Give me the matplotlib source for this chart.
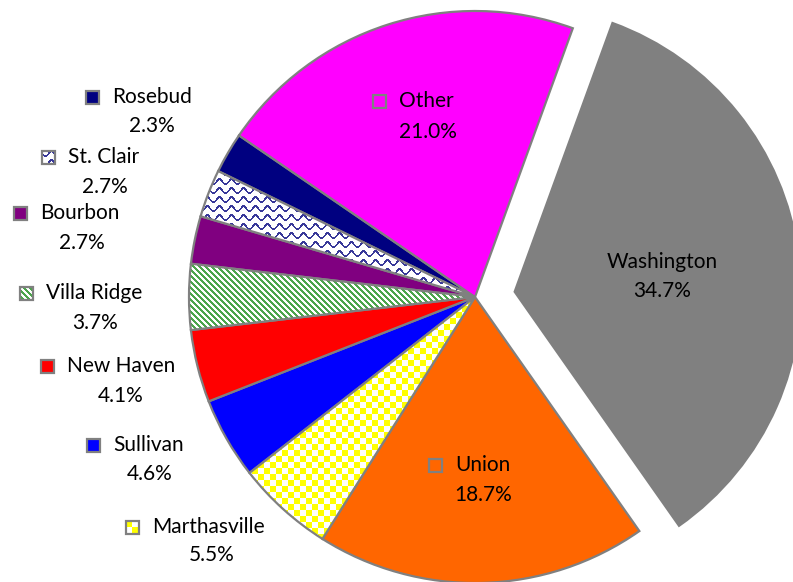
import numpy as np
import matplotlib.pyplot as plt
from matplotlib.patches import Rectangle

W, H = 793, 582

towns = ["Washington", "Union", "Marthasville", "Sullivan", "New Haven",
         "Villa Ridge", "Bourbon", "St. Clair", "Rosebud", "Other"]
shares = [34.7, 18.7, 5.5, 4.6, 4.1, 3.7, 2.7, 2.7, 2.3, 21.0]
colors = ["#808080", "#FF6600", "#FFFFFF", "#0000FF", "#FF0000",
          "#FFFFFF", "#800080", "#FFFFFF", "#000080", "#FF00FF"]
patterns = [None, None, "checker", None, None, "stripes", None, "waves", None, None]
explode = [40, 0, 0, 0, 0, 0, 0, 0, 0, 0]

# label anchors in image pixels (x, y from top): name left edge / pct centre
name_pos = [(662, 262), (455, 465), (152, 527), (113, 445), (67, 366),
            (46, 293), (40, 213), (68, 157), (112, 97), (399, 101)]
pct_pos = [(662, 291), (483, 495), (212, 555), (150, 474), (121, 396),
           (95, 323), (82, 243), (105, 187), (152, 126), (428, 132)]

EDGE = "#808080"
FONT = "Lato"
FS = 15

yy, xx = np.mgrid[0:H, 0:W]


def pattern_image(kind):
    img = np.ones((H, W, 3))
    if kind == "checker":
        mask = ((xx // 6 + yy // 6) % 2) == 0
        img[mask] = (1.0, 1.0, 0.0)
    elif kind == "stripes":
        mask = ((yy - xx) % 6) < 3
        img[mask] = (0.30, 0.65, 0.30)
    elif kind == "waves":
        phase = yy + 2.5 * np.sin(2 * np.pi * xx / 12.0)
        mask = (phase % 9) < 2.5
        img[mask] = (0.22, 0.22, 0.60)
    return img


def textured(ax, patch, kind):
    im = ax.imshow(pattern_image(kind), extent=(0, W, 0, H), origin="upper",
                   interpolation="nearest", zorder=2)
    im.set_clip_path(patch)


fig = plt.figure(figsize=(W / 100, H / 100), dpi=100)
ax = fig.add_axes([0, 0, 1, 1])

wedges, _ = ax.pie(shares, startangle=70, counterclock=False,
                   center=(475, H - 297), radius=286, explode=explode,
                   colors=colors,
                   wedgeprops=dict(edgecolor=EDGE, linewidth=1.6))

for w, kind in zip(wedges, patterns):
    if kind:
        w.set_facecolor("none")
        w.set_zorder(3)
        textured(ax, w, kind)
wedges[0].set_edgecolor(colors[0])

for i, town in enumerate(towns):
    nx, ny = name_pos[i]
    px, py = pct_pos[i]
    if i == 0:
        ax.text(nx, H - ny, town, ha="center", va="center", fontsize=FS,
                family=FONT, zorder=5)
    else:
        ax.text(nx, H - ny, town, ha="left", va="center", fontsize=FS,
                family=FONT, zorder=5)
        sq = Rectangle((nx - 26.5, H - ny - 6.5), 13, 13,
                       facecolor="none" if patterns[i] else colors[i],
                       edgecolor=EDGE, linewidth=1.6, zorder=5)
        ax.add_patch(sq)
        if patterns[i]:
            textured(ax, sq, patterns[i])
    ax.text(px, H - py, f"{shares[i]:.1f}%", ha="center", va="center",
            fontsize=FS, family=FONT, zorder=5)

ax.set_xlim(0, W)
ax.set_ylim(0, H)
ax.set_aspect("auto")
ax.axis("off")

fig.savefig("out.png", dpi=100)
